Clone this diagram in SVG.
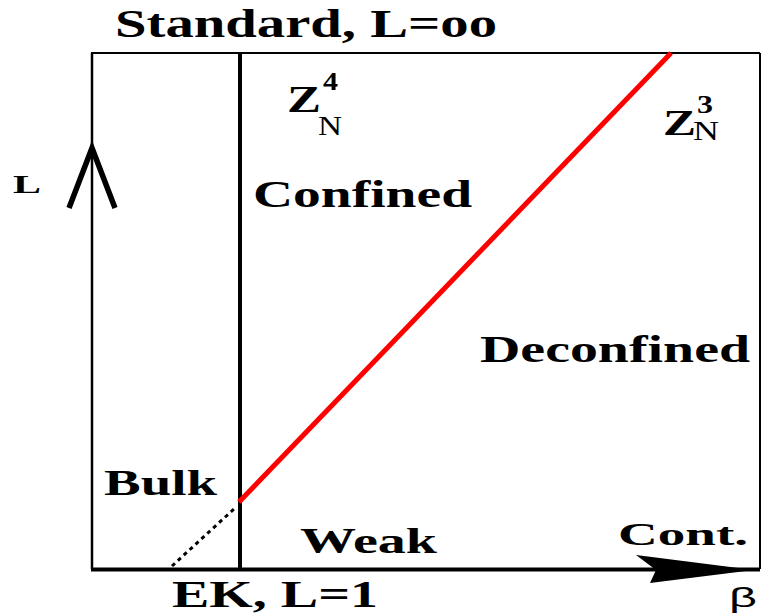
<svg xmlns="http://www.w3.org/2000/svg" width="762" height="614" viewBox="0 0 762 614">
<style>
.t{font-family:"Liberation Serif","Times New Roman",serif;font-weight:bold;fill:#000}
.r{font-family:"Liberation Serif","Times New Roman",serif;fill:#000}
</style>
<rect width="762" height="614" fill="#fff"/>
<g id="frame">
<line x1="91" y1="53" x2="760" y2="53" stroke="#000" stroke-width="2"/>
<line x1="760" y1="53" x2="760" y2="569" stroke="#000" stroke-width="2"/>
<line x1="92" y1="53" x2="92" y2="569" stroke="#000" stroke-width="2.5"/>
</g>
<g id="connectors">
<line id="beta-axis" x1="91" y1="569.5" x2="760" y2="569.5" stroke="#000" stroke-width="4"/>
<polygon id="beta-arrow" points="636,555 754,570 650,583 656,570" fill="#000"/>
<polyline id="L-arrow" points="69,208 92,148 115,208" fill="none" stroke="#000" stroke-width="5.5" stroke-linejoin="miter"/>
<line id="bulk-line" x1="240" y1="53" x2="240" y2="569" stroke="#000" stroke-width="4"/>
<line id="transition" x1="239" y1="502" x2="671" y2="53" stroke="#f00" stroke-width="5"/>
<line id="dotted" x1="172" y1="566" x2="235" y2="508" stroke="#000" stroke-width="3" stroke-dasharray="4,4"/>
</g>
<g id="labels">
<text class="t" x="115" y="37" font-size="40" textLength="382" lengthAdjust="spacingAndGlyphs">Standard, L=oo</text>
<text class="t" x="13" y="193" font-size="26" textLength="28" lengthAdjust="spacingAndGlyphs">L</text>
<text class="t" x="253" y="207" font-size="38" textLength="219" lengthAdjust="spacingAndGlyphs">Confined</text>
<text class="t" x="480" y="362" font-size="38" textLength="270" lengthAdjust="spacingAndGlyphs">Deconfined</text>
<text class="t" x="104" y="495" font-size="36" textLength="113" lengthAdjust="spacingAndGlyphs">Bulk</text>
<text class="t" x="300" y="553" font-size="36" textLength="137" lengthAdjust="spacingAndGlyphs">Weak</text>
<text class="t" x="618" y="545" font-size="31" textLength="130" lengthAdjust="spacingAndGlyphs">Cont.</text>
<text class="t" x="172" y="607" font-size="38" textLength="206" lengthAdjust="spacingAndGlyphs">EK, L=1</text>
<text x="729" y="607" font-family="Liberation Sans, Arial, sans-serif" font-size="28" textLength="28" lengthAdjust="spacingAndGlyphs">β</text>
</g>
<g id="z4">
<text class="t" x="287" y="112" font-size="38" textLength="34" lengthAdjust="spacingAndGlyphs">Z</text>
<text class="t" x="323" y="90" font-size="26" textLength="15" lengthAdjust="spacingAndGlyphs">4</text>
<text class="r" x="318" y="135" font-size="27" textLength="24" lengthAdjust="spacingAndGlyphs">N</text>
</g>
<g id="z3">
<text class="t" x="663" y="135" font-size="35" textLength="33" lengthAdjust="spacingAndGlyphs">Z</text>
<text class="t" x="697" y="113" font-size="25" textLength="16" lengthAdjust="spacingAndGlyphs">3</text>
<text class="r" x="693" y="140" font-size="27" textLength="26" lengthAdjust="spacingAndGlyphs">N</text>
</g>
</svg>
